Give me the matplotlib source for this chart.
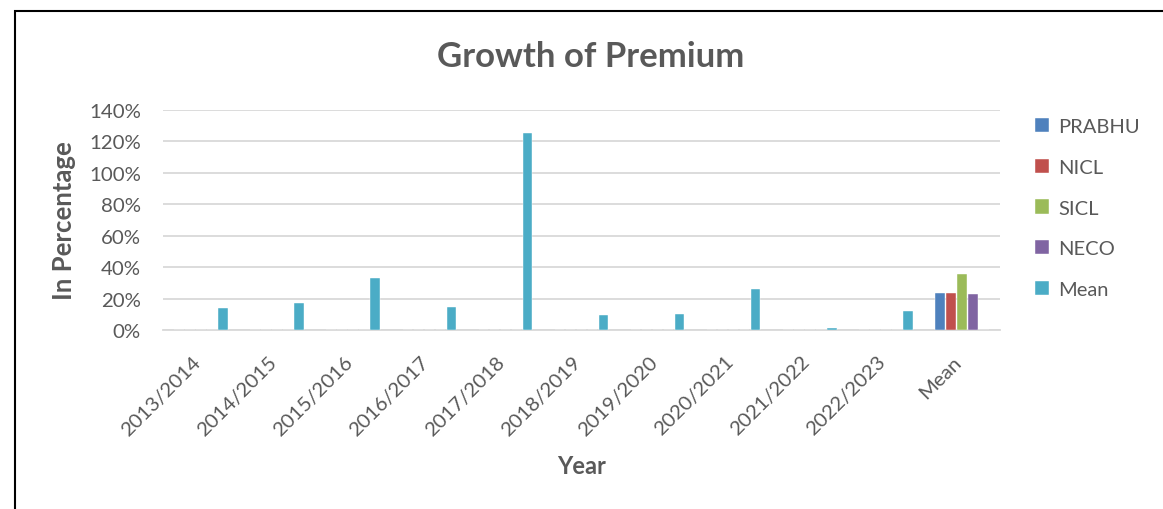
import matplotlib.pyplot as plt
import numpy as np
from matplotlib.patches import Rectangle
from matplotlib.ticker import PercentFormatter
from matplotlib.transforms import ScaledTranslation

plt.rcParams['font.family'] = ['Lato', 'DejaVu Sans']

years = ['2013/2014', '2014/2015', '2015/2016', '2016/2017', '2017/2018',
         '2018/2019', '2019/2020', '2020/2021', '2021/2022', '2022/2023', 'Mean']
series = ['PRABHU', 'NICL', 'SICL', 'NECO', 'Mean']
colors = ['#4F81BD', '#C0504D', '#9BBB59', '#8064A2', '#4BACC6']

# growth in percent; the company series only have a value in the Mean column
prabhu = [0, 0, 0, 0, 0, 0, 0, 0, 0, 0, 23.6]
nicl = [0, 0, 0, 0, 0, 0, 0, 0, 0, 0, 23.6]
sicl = [0, 0, 0, 0, 0, 0, 0, 0, 0, 0, 35.7]
neco = [0, 0, 0, 0, 0, 0, 0, 0, 0, 0, 23.0]
mean = [14.0, 17.2, 33.1, 14.5, 125.2, 9.8, 10.2, 26.4, 1.3, 12.4, 0]

text_col = '#595959'
fig = plt.figure(figsize=(11.63, 5.10), dpi=100)
ax = fig.add_axes([163/1163, 1-331/510, 837/1163, 220/510])

x = np.arange(len(years))
step = 0.1445
for i, (vals, name) in enumerate(zip([prabhu, nicl, sicl, neco, mean], series)):
    ax.bar(x + (i - 2) * step, vals, width=0.125, color=colors[i], label=name,
           edgecolor='white', linewidth=0.3, zorder=3)

ax.set_xlim(-0.5, len(years) - 0.5)
ax.set_ylim(0, 140)
ax.set_yticks(np.arange(0, 141, 20))
ax.yaxis.set_major_formatter(PercentFormatter(decimals=0))
ax.yaxis.grid(True, color='#d9d9d9', linewidth=1.3, zorder=0)
for s in ['top', 'right', 'left']:
    ax.spines[s].set_visible(False)
ax.spines['bottom'].set_color('#d9d9d9')
ax.spines['bottom'].set_linewidth(1.3)
ax.tick_params(length=0, labelsize=14.7, colors=text_col)
ax.set_xticks(x)
ax.set_xticklabels(years, rotation=45, ha='right', rotation_mode='anchor')
ax.tick_params(axis='x', pad=14)
ax.tick_params(axis='y', pad=16)
# nudge the slanted year labels a little left and down
shift = ScaledTranslation(-9/100, -3/100, fig.dpi_scale_trans)
for lbl in ax.get_xticklabels():
    lbl.set_transform(lbl.get_transform() + shift)

ax.set_ylabel('In Percentage', fontsize=18.5, fontweight='bold', color=text_col)
ax.yaxis.set_label_coords(-(163 - 76) / 837, 0.5)
ax.set_xlabel('Year', fontsize=17, fontweight='bold', color=text_col)
ax.xaxis.set_label_coords(0.5, -(467 - 331) / 220)
ax.xaxis.label.set_va('center')
fig.text(591/1163, 1-57/510, 'Growth of Premium', fontsize=25, fontweight='bold',
         color=text_col, ha='center', va='center')

leg = fig.legend(loc='upper left', bbox_to_anchor=(1021/1163, 1-105/510), frameon=False,
                 fontsize=14.5, handlelength=0.7, handleheight=0.7, handletextpad=0.45,
                 labelspacing=1.17, borderpad=0.2, labelcolor=text_col)

# chart frame, cut off at the right and bottom
fig.patches.append(Rectangle((15/1163, -0.1), 1.2, 1 - 12/510 + 0.1,
                             transform=fig.transFigure, fill=False,
                             edgecolor='black', linewidth=1.5))

fig.savefig('out.png', dpi=100)
